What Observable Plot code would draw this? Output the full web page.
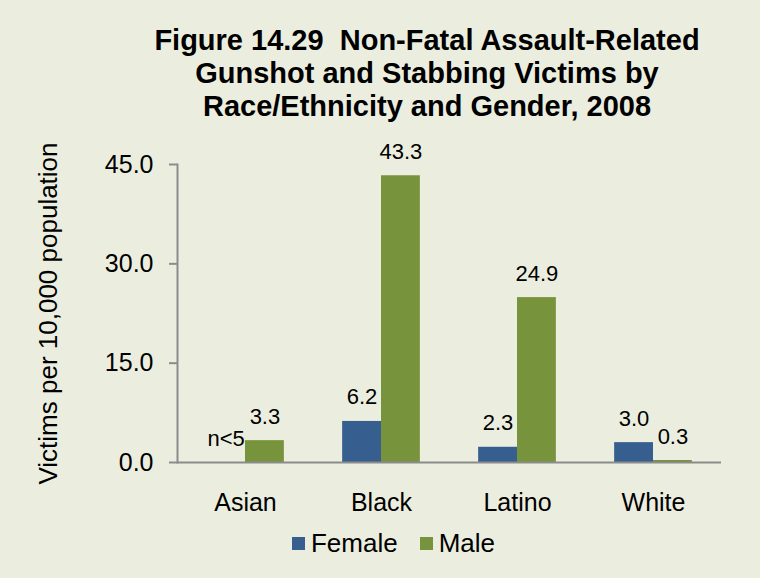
<!DOCTYPE html>
<html>
<head>
<meta charset="utf-8">
<script src="https://cdn.jsdelivr.net/npm/d3@7"></script>
<script src="https://cdn.jsdelivr.net/npm/@observablehq/plot@0.6"></script>
<style>
  html, body { margin: 0; padding: 0; }
  body { width: 760px; height: 578px; background: #EBEEDF; font-family: "Liberation Sans", Arial, sans-serif; overflow: hidden; }
  #title { margin: 0; padding: 24px 0 0 94px; box-sizing: border-box; height: 135px;
           text-align: center; font-weight: bold; font-size: 29px; line-height: 33px; color: #000; }
  #legend { display: flex; justify-content: center; align-items: center; padding-left: 27px; margin-top: 3px; font-size: 26px; color: #000; }
  #legend .item { display: flex; align-items: center; }
  #legend .item + .item { margin-left: 22px; }
  #legend .sw { width: 13px; height: 13px; margin-right: 6px; }
</style>
</head>
<body>
<div id="title">Figure 14.29&nbsp; Non-Fatal Assault-Related<br>Gunshot and Stabbing Victims by<br>Race/Ethnicity and Gender, 2008</div>
<div id="chart"></div>
<div id="legend"></div>
<script>
const categories = ["Asian", "Black", "Latino", "White"];
const sexes = ["Female", "Male"];
const femaleValues = [null, 6.2, 2.3, 3.0];   // Asian female: n<5 (suppressed)
const maleValues = [3.3, 43.3, 24.9, 0.3];
const suppressedLabel = "n<5";
const yTicks = [0, 15, 30, 45];
const colors = ["#365F8F", "#77933C"];
const yLabel = "Victims per 10,000 population";

const rows = [];
categories.forEach((c, i) => {
  rows.push({cat: c, sex: "Female", value: femaleValues[i]});
  rows.push({cat: c, sex: "Male", value: maleValues[i]});
});
rows.forEach(r => { r.label = r.value == null ? suppressedLabel : r.value.toFixed(1); r.ly = r.value == null ? 0 : r.value; });

const axisColor = "#8C8C8C";
const plot = Plot.plot({
  width: 760,
  height: 390,
  marginTop: 29,
  marginBottom: 63,
  marginLeft: 176,
  marginRight: 38,
  style: {background: "transparent", fontFamily: "'Liberation Sans', Arial, sans-serif", color: "#000"},
  fx: {domain: categories, paddingInner: 0, paddingOuter: 0, label: null},
  x: {domain: sexes, paddingInner: 0, paddingOuter: 0.75, round: false, axis: null},
  y: {domain: [0, 45], label: null},
  color: {domain: sexes, range: colors},
  marks: [
    Plot.barY(rows, {fx: "cat", x: "sex", y: "value", fill: "sex"}),
    Plot.ruleY([0], {stroke: axisColor, strokeWidth: 2}),
    Plot.frame({anchor: "left", facet: "super", stroke: axisColor, strokeWidth: 2}),
    Plot.text(rows, {fx: "cat", x: "sex", y: "ly", text: "label", dy: -24, lineAnchor: "middle", fontSize: 22, fill: "#000"}),
    Plot.axisY({ticks: yTicks, tickFormat: d => d.toFixed(1), tickSize: 8, tickPadding: 16, fontSize: 25,
                stroke: axisColor, strokeWidth: 2, fill: "#000", label: null}),
    Plot.axisY({ticks: [], tickSize: 0, fontSize: 26, fill: "#000",
                label: yLabel, labelArrow: "none", labelAnchor: "center", labelOffset: 139}),
    Plot.axisFx({anchor: "bottom", tickSize: 0, tickPadding: 31, fontSize: 25, fill: "#000", label: null})
  ]
});
document.getElementById("chart").appendChild(plot);

const legend = document.getElementById("legend");
sexes.forEach((s, i) => {
  const item = document.createElement("div");
  item.className = "item";
  const sw = document.createElement("span");
  sw.className = "sw";
  sw.style.background = colors[i];
  item.appendChild(sw);
  item.appendChild(document.createTextNode(s));
  legend.appendChild(item);
});
</script>
</body>
</html>
